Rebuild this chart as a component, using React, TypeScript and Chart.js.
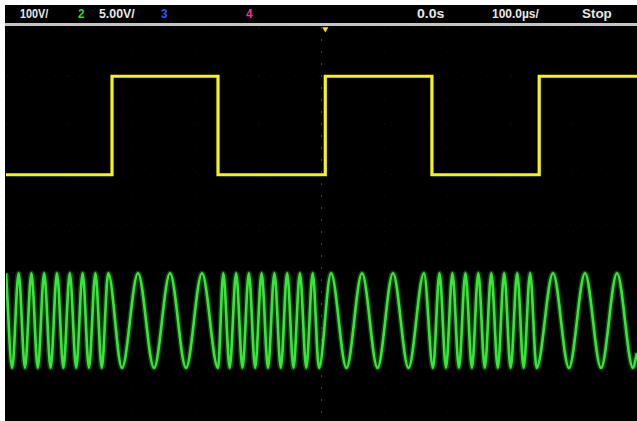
import React, { useEffect, useRef } from "react";
import { Chart, registerables } from "chart.js";

Chart.register(...registerables);

// Horizontal: time in µs across 10 divisions of 100 µs
const timeMin = 0;
const timeMax = 1000;
// Vertical: screen divisions (8 divisions)
const levelMin = -4;
const levelMax = 4;

// Channel 1 (yellow): FSK control square wave, level changes at these times
const ch1EdgeTimes = [0, 168, 336, 506, 675, 845, 1000];
const ch1Levels = [1, 3, 1, 3, 1, 3, 3];

// Channel 2 (green): FSK output, times of the crests and troughs
const ch2PeakTimes = [
  0, 20.0, 40.3, 60.5, 80.8, 101.1, 121.4, 141.7, 162.0,
  209.2, 259.9, 310.6,
  344.4, 364.7, 384.9, 405.1, 425.4, 445.6, 465.8, 486.1,
  515.1, 564.2, 613.3, 662.4,
  687.0, 707.5, 728.1, 748.5, 769.1, 789.5, 810.1, 830.6,
  866.9, 917.6, 968.3,
];
const ch2TroughTimes = [
  9.8, 30.1, 50.4, 70.7, 91.0, 111.3, 131.5, 151.8,
  183.8, 234.6, 285.3, 336.0,
  354.5, 374.8, 394.9, 415.2, 435.5, 455.6, 475.9, 496.0,
  539.6, 588.8, 637.9, 676.7,
  697.3, 717.8, 738.4, 758.8, 779.4, 799.8, 820.4, 840.9,
  892.2, 943.0, 993.7,
];
const ch2PeakLevel = -1.0;
const ch2TroughLevel = -2.92;
const ch2EndTime = 1000;
const ch2EndLevel = -2.62;

// Trigger marker
const triggerTime = 506;
const triggerLevel = 3.96;

// Status bar texts
const headerTexts = ["100V/", "2", "5.00V/", "3", "4", "0.0s", "100.0µs/", "Stop"];

const headerStyles: { left: number; color: string; sx: number }[] = [
  { left: 20, color: "#e8e8e8", sx: 0.83 },
  { left: 77.5, color: "#33d633", sx: 0.9 },
  { left: 99, color: "#e8e8e8", sx: 0.95 },
  { left: 161, color: "#3355ff", sx: 0.9 },
  { left: 246, color: "#ee3399", sx: 0.9 },
  { left: 417, color: "#e8e8e8", sx: 1.08 },
  { left: 492, color: "#e8e8e8", sx: 0.92 },
  { left: 582, color: "#e8e8e8", sx: 1.03 },
];

export default function App() {
  const canvasRef = useRef<HTMLCanvasElement | null>(null);

  useEffect(() => {
    const canvas = canvasRef.current;
    if (!canvas) return;
    const ch1 = ch1EdgeTimes.map((t, i) => ({ x: t, y: ch1Levels[i] }));
    const ch2 = [
      ...ch2PeakTimes.map((t) => ({ x: t, y: ch2PeakLevel })),
      ...ch2TroughTimes.map((t) => ({ x: t, y: ch2TroughLevel })),
    ].sort((a, b) => a.x - b.x);
    ch2.push({ x: ch2EndTime, y: ch2EndLevel });

    const chart = new Chart(canvas, {
      type: "line",
      data: {
        datasets: [
          {
            data: ch2,
            borderColor: "rgba(50,230,50,0.28)",
            borderWidth: 5.5,
            pointRadius: 0,
            pointHoverRadius: 0,
            cubicInterpolationMode: "monotone",
            fill: false,
          },
          {
            data: ch2,
            borderColor: "#3ae83a",
            borderWidth: 2.6,
            pointRadius: 0,
            pointHoverRadius: 0,
            cubicInterpolationMode: "monotone",
            fill: false,
          },
          {
            data: ch1,
            borderColor: "#f4f41c",
            borderWidth: 3.2,
            pointRadius: 0,
            pointHoverRadius: 0,
            stepped: "before",
            fill: false,
          },
          {
            data: [{ x: triggerTime, y: triggerLevel }],
            showLine: false,
            pointStyle: "triangle",
            rotation: 180,
            pointRadius: 3.5,
            pointHoverRadius: 3.5,
            pointBackgroundColor: "#f4e41c",
            pointBorderColor: "#f4e41c",
            pointBorderWidth: 0,
            clip: false,
          } as any,
        ],
      },
      options: {
        responsive: false,
        animation: false,
        events: [],
        layout: { padding: 0, autoPadding: false },
        plugins: { legend: { display: false }, tooltip: { enabled: false } },
        scales: {
          x: {
            type: "linear",
            min: timeMin,
            max: timeMax,
            ticks: { display: false, stepSize: 100 },
            grid: {
              drawTicks: false,
              color: (ctx: any) =>
                ctx.tick && ctx.tick.value === 500
                  ? "rgba(170,170,170,0.4)"
                  : "rgba(255,255,255,0.035)",
            },
            border: { display: false, dash: [2, 10] },
          },
          y: {
            type: "linear",
            min: levelMin,
            max: levelMax,
            ticks: { display: false, stepSize: 1 },
            grid: { drawTicks: false, color: "rgba(255,255,255,0.035)" },
            border: { display: false, dash: [2, 10] },
          },
        },
      },
    } as any);
    return () => chart.destroy();
  }, []);

  return (
    <div
      style={{
        position: "fixed",
        left: 0,
        top: 0,
        width: 637,
        height: 421,
        background: "#ffffff",
        overflow: "hidden",
      }}
    >
      <div
        style={{
          position: "absolute",
          left: 5,
          top: 5,
          width: 632,
          height: 416,
          background: "#000000",
        }}
      />
      <div
        style={{
          position: "absolute",
          left: 5,
          top: 23,
          width: 632,
          height: 3,
          background: "#c4c4c4",
        }}
      />
      {headerTexts.map((t, i) => (
        <span
          key={i}
          style={{
            position: "absolute",
            left: headerStyles[i].left,
            top: 6.6,
            fontFamily: "'Liberation Sans', Arial, sans-serif",
            fontWeight: 700,
            fontSize: 13,
            lineHeight: "13px",
            color: headerStyles[i].color,
            whiteSpace: "nowrap",
            transform: `scaleX(${headerStyles[i].sx})`,
            transformOrigin: "left center",
          }}
        >
          {t}
        </span>
      ))}
      <canvas
        ref={canvasRef}
        width={631}
        height={394}
        style={{ position: "absolute", left: 6, top: 27, width: 631, height: 394 }}
      />
    </div>
  );
}
